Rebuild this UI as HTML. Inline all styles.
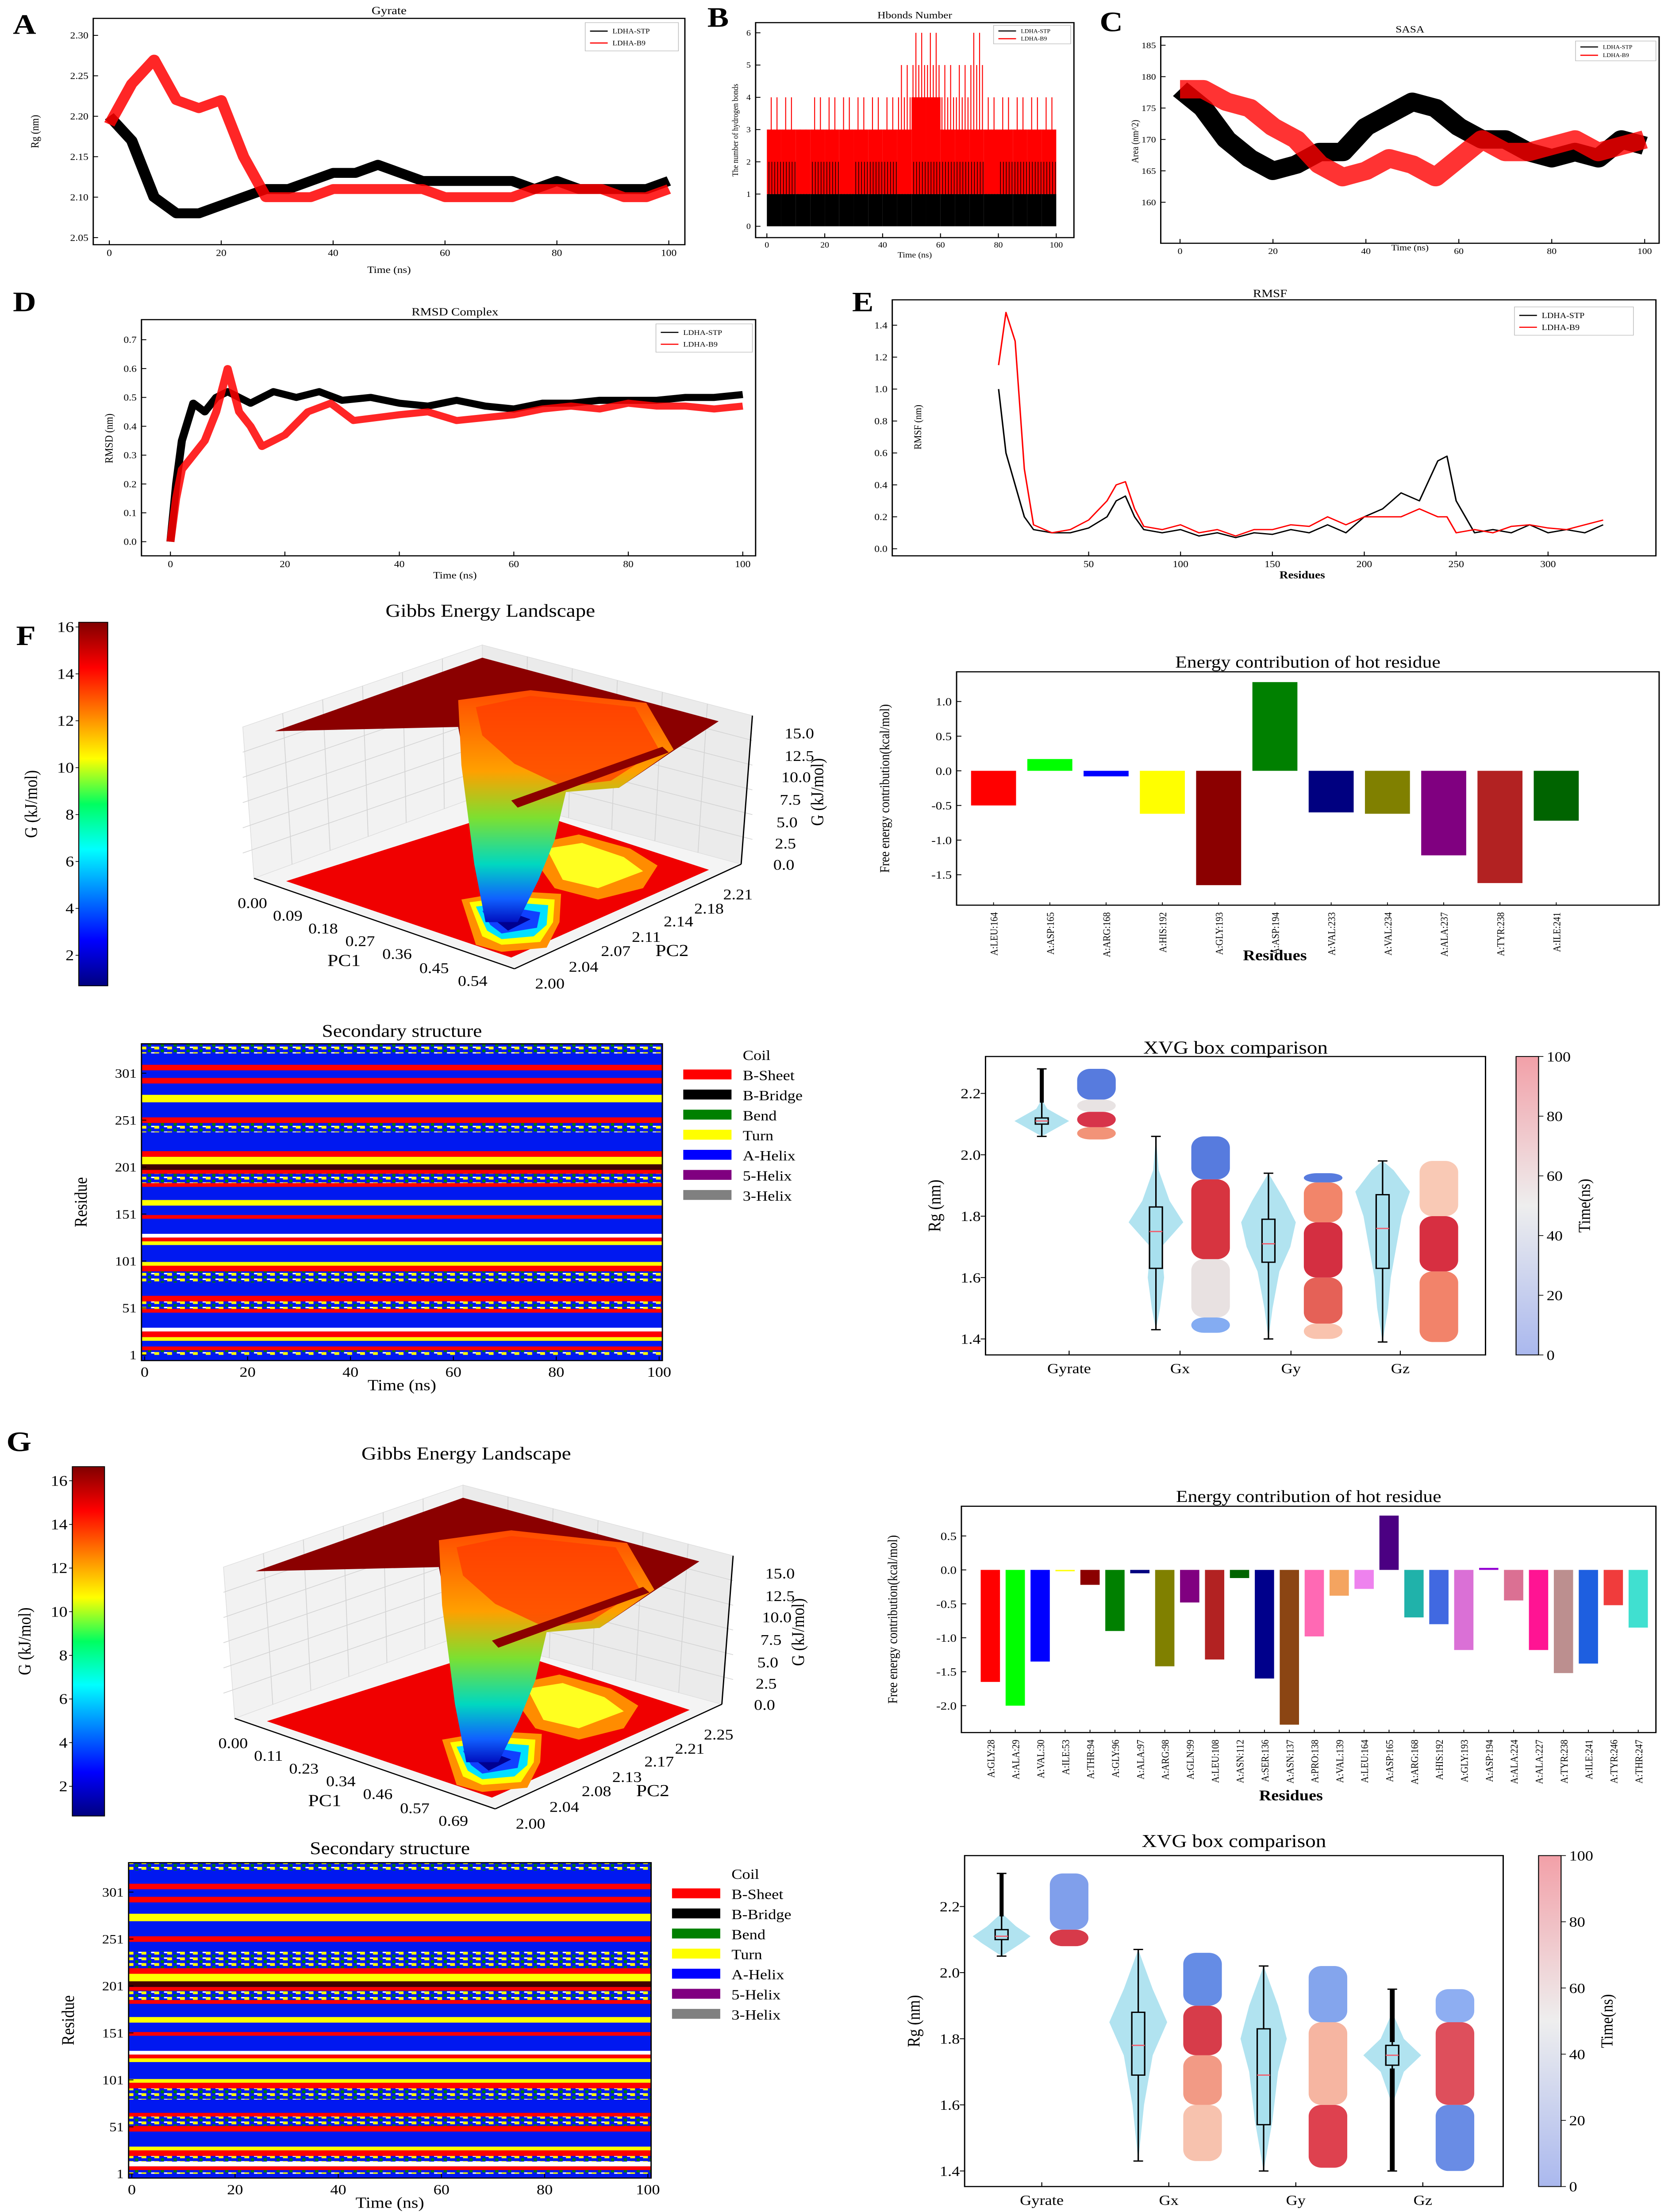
<!DOCTYPE html>
<html><head><meta charset="utf-8"><title>MD analysis figure</title>
<style>
html,body{margin:0;padding:0;background:#fff;width:100%;height:100%;overflow:hidden;}
#fig{display:block;position:fixed;left:0;top:0;width:100vw;height:100vh;}
text{font-family:"Liberation Serif",serif;}
</style></head>
<body>
<svg id="fig" xmlns="http://www.w3.org/2000/svg" viewBox="0 0 1040 1564" preserveAspectRatio="none" overflow="hidden">
<defs>
<linearGradient id="jet" x1="0" y1="1" x2="0" y2="0">
<stop offset="0" stop-color="#000080"/><stop offset="0.125" stop-color="#0000ff"/><stop offset="0.375" stop-color="#00ffff"/><stop offset="0.5" stop-color="#00ff60"/><stop offset="0.625" stop-color="#ffff00"/><stop offset="0.875" stop-color="#ff0000"/><stop offset="1" stop-color="#800000"/>
</linearGradient>
<linearGradient id="funnel" x1="0" y1="0" x2="0" y2="1">
<stop offset="0" stop-color="#ff4a00"/><stop offset="0.35" stop-color="#ffa000"/><stop offset="0.55" stop-color="#7de030"/><stop offset="0.75" stop-color="#00d8c0"/><stop offset="0.9" stop-color="#1060ff"/><stop offset="1" stop-color="#0010c0"/>
</linearGradient>
<linearGradient id="cw" x1="0" y1="1" x2="0" y2="0">
<stop offset="0" stop-color="#aab8ee"/><stop offset="0.5" stop-color="#eeeeee"/><stop offset="1" stop-color="#f2a0a8"/>
</linearGradient>
<pattern id="mix" width="8" height="4" patternUnits="userSpaceOnUse">
<rect width="8" height="4" fill="#0018f0"/><rect x="0" y="0" width="3" height="2" fill="#ffff00"/><rect x="4" y="2" width="2" height="2" fill="#008000"/><rect x="6" y="0" width="2" height="1" fill="#ffffff"/>
</pattern>
</defs>
</svg>
<script>
// ---------------- DATA ----------------
const gyrTime=[0,4,8,12,16,20,24,28,32,36,40,44,48,52,56,60,64,68,72,76,80,84,88,92,96,100];
const gyrSTP=[2.20,2.17,2.10,2.08,2.08,2.09,2.10,2.11,2.11,2.12,2.13,2.13,2.14,2.13,2.12,2.12,2.12,2.12,2.12,2.11,2.12,2.11,2.11,2.11,2.11,2.12];
const gyrB9=[2.19,2.24,2.27,2.22,2.21,2.22,2.15,2.10,2.10,2.10,2.11,2.11,2.11,2.11,2.11,2.10,2.10,2.10,2.10,2.11,2.11,2.11,2.11,2.10,2.10,2.11];
const gyrYTicks=[2.05,2.10,2.15,2.20,2.25,2.30];
const timeTicks=[0,20,40,60,80,100];

const hbBucketStart=[0,5,10,15,20,25,30,35,40,45,50,55,60,65,70,75,80,85,90,95];
const hbRedMax=[4,4,3,4,4,4,4,4,4,5,6,6,5,5,6,4,4,4,4,4];
const hbRedTypical=[3,3,3,3,3,3,3,3,3,3,4,4,3,3,3,3,3,3,3,3];
const hbBlackMax=[2,2,1,2,2,1,2,2,2,1,2,2,2,2,2,1,2,2,2,2];
const hbYTicks=[0,1,2,3,4,5,6];

const sasaTime=[0,5,10,15,20,25,30,35,40,45,50,55,60,65,70,75,80,85,90,95,100];
const sasaSTP=[178,175,170,167,165,166,168,168,172,174,176,175,172,170,170,168,167,168,167,170,169];
const sasaB9=[178,178,176,175,172,170,166,164,165,167,166,164,167,170,168,168,169,170,168,169,170];
const sasaYTicks=[160,165,170,175,180,185];

const rmsdTimeSTP=[0,1,2,4,6,8,10,14,18,22,26,30,35,40,45,50,55,60,65,70,75,80,85,90,95,100];
const rmsdSTP=[0,0.2,0.35,0.48,0.45,0.5,0.52,0.48,0.52,0.5,0.52,0.49,0.5,0.48,0.47,0.49,0.47,0.46,0.48,0.48,0.49,0.49,0.49,0.5,0.5,0.51];
const rmsdTimeB9=[0,1,2,4,6,8,10,12,14,16,18,20,24,28,32,36,40,45,50,55,60,65,70,75,80,85,90,95,100];
const rmsdB9=[0,0.15,0.25,0.3,0.35,0.45,0.6,0.45,0.4,0.33,0.35,0.37,0.45,0.48,0.42,0.43,0.44,0.45,0.42,0.43,0.44,0.46,0.47,0.46,0.48,0.47,0.47,0.46,0.47];
const rmsdYTicks=[0,0.1,0.2,0.3,0.4,0.5,0.6,0.7];

const rmsfRes=[1,5,10,15,20,30,40,50,60,65,70,75,80,90,100,110,120,130,140,150,160,170,180,190,200,210,220,230,240,245,250,260,270,280,290,300,310,320,330];
const rmsfSTP=[1.0,0.6,0.4,0.2,0.12,0.1,0.1,0.13,0.2,0.3,0.33,0.2,0.12,0.1,0.12,0.08,0.1,0.07,0.1,0.09,0.12,0.1,0.15,0.1,0.2,0.25,0.35,0.3,0.55,0.58,0.3,0.1,0.12,0.1,0.15,0.1,0.12,0.1,0.15];
const rmsfB9=[1.15,1.48,1.3,0.5,0.15,0.1,0.12,0.18,0.3,0.4,0.42,0.25,0.14,0.12,0.15,0.1,0.12,0.08,0.12,0.12,0.15,0.14,0.2,0.15,0.2,0.2,0.2,0.25,0.2,0.2,0.1,0.12,0.1,0.14,0.15,0.13,0.12,0.15,0.18];
const rmsfYTicks=[0,0.2,0.4,0.6,0.8,1.0,1.2,1.4];
const rmsfXTicks=[50,100,150,200,250,300];

const hotResF=["A:LEU:164","A:ASP:165","A:ARG:168","A:HIS:192","A:GLY:193","A:ASP:194","A:VAL:233","A:VAL:234","A:ALA:237","A:TYR:238","A:ILE:241"];
const hotValF=[-0.5,0.17,-0.08,-0.62,-1.65,1.28,-0.6,-0.62,-1.22,-1.62,-0.72];
const hotColF=["#ff0000","#00ff00","#0000ff","#ffff00","#8b0000","#008000","#000080","#808000","#800080","#b22222","#006400"];
const hotTicksF=[-1.5,-1.0,-0.5,0.0,0.5,1.0];

const hotResG=["A:GLY:28","A:ALA:29","A:VAL:30","A:ILE:53","A:THR:94","A:GLY:96","A:ALA:97","A:ARG:98","A:GLN:99","A:LEU:108","A:ASN:112","A:SER:136","A:ASN:137","A:PRO:138","A:VAL:139","A:LEU:164","A:ASP:165","A:ARG:168","A:HIS:192","A:GLY:193","A:ASP:194","A:ALA:224","A:ALA:227","A:TYR:238","A:ILE:241","A:TYR:246","A:THR:247"];
const hotValG=[-1.65,-2.0,-1.35,-0.02,-0.22,-0.9,-0.05,-1.42,-0.48,-1.32,-0.12,-1.6,-2.28,-0.98,-0.38,-0.28,0.8,-0.7,-0.8,-1.18,0.03,-0.45,-1.18,-1.52,-1.38,-0.52,-0.85];
const hotColG=["#ff0000","#00ff00","#0000ff","#ffff00","#8b0000","#008000","#000080","#808000","#800080","#b22222","#006400","#00008b","#8b4513","#ff69b4","#f4a460","#ee82ee","#4b0082","#20b2aa","#4169e1","#da70d6","#9400d3","#db7093","#ff1493","#bc8f8f","#1e5fe0","#f03c3c","#40e0d0"];
const hotTicksG=[-2.0,-1.5,-1.0,-0.5,0.0,0.5];

const ssCodes=["Coil","B-Sheet","B-Bridge","Bend","Turn","A-Helix","5-Helix","3-Helix"];
const ssBandsF=[[1,6,'M'],[6,10,'E'],[10,16,'H'],[16,20,'T'],[20,26,'E'],[26,30,'C'],[30,46,'H'],[46,50,'E'],[50,58,'M'],[58,64,'E'],[64,78,'H'],[78,90,'M'],[90,96,'E'],[96,100,'T'],[100,118,'H'],[118,122,'T'],[122,126,'E'],[126,130,'C'],[130,146,'H'],[146,150,'E'],[150,160,'H'],[160,166,'T'],[166,180,'H'],[180,184,'E'],[184,194,'M'],[194,198,'E'],[198,204,'B'],[204,212,'T'],[212,218,'E'],[218,238,'H'],[238,248,'M'],[248,254,'E'],[254,270,'H'],[270,278,'T'],[278,290,'H'],[290,296,'E'],[296,304,'H'],[304,310,'E'],[310,322,'H'],[322,332,'M']];
const ssBandsG=[[1,5,'M'],[5,9,'E'],[9,14,'C'],[14,20,'M'],[20,26,'E'],[26,30,'T'],[30,46,'H'],[46,52,'E'],[52,62,'M'],[62,66,'E'],[66,80,'H'],[80,92,'M'],[92,98,'E'],[98,102,'T'],[102,120,'H'],[120,124,'T'],[124,128,'E'],[128,132,'C'],[132,148,'H'],[148,152,'E'],[152,162,'H'],[162,168,'T'],[168,182,'H'],[182,186,'E'],[186,196,'M'],[196,200,'E'],[200,206,'B'],[206,214,'T'],[214,220,'E'],[220,238,'M'],[238,248,'H'],[248,254,'E'],[254,270,'H'],[270,278,'T'],[278,290,'H'],[290,296,'E'],[296,304,'H'],[304,310,'E'],[310,324,'H'],[324,332,'M']];
const ssResTicks=[1,51,101,151,201,251,301];

const xvgGroups=["Gyrate","Gx","Gy","Gz"];
const xvgTicks=[1.4,1.6,1.8,2.0,2.2];
const boxF=[[2.06,2.10,2.11,2.12,2.28],[1.43,1.63,1.75,1.83,2.06],[1.40,1.65,1.71,1.79,1.94],[1.39,1.63,1.76,1.87,1.98]];
const violinLevelsF=[[2.06,2.09,2.11,2.13,2.15,2.18],[1.43,1.5,1.6,1.7,1.78,1.85,1.95,2.06],[1.40,1.5,1.62,1.7,1.78,1.85,1.94],[1.39,1.5,1.6,1.7,1.8,1.88,1.95,1.98]];
const violinWidthF=[[0,0.6,1,0.6,0.2,0],[0,0.15,0.3,0.2,1,0.5,0.1,0],[0,0.15,0.4,0.8,1,0.6,0],[0,0.2,0.3,0.5,0.7,1,0.4,0]];
const stripF=[[[2.05,2.09,"#f08060"],[2.09,2.14,"#d0102a"],[2.14,2.18,"#e4dede"],[2.18,2.28,"#3a64d8"]],[[1.42,1.47,"#6e9ef0"],[1.47,1.66,"#e4dcdc"],[1.66,1.92,"#d0101e"],[1.92,2.06,"#3a64d8"]],[[1.40,1.45,"#f8b9a0"],[1.45,1.6,"#e0453a"],[1.6,1.78,"#cc0a20"],[1.78,1.91,"#f07050"],[1.91,1.94,"#3a64d8"]],[[1.39,1.62,"#f06d50"],[1.62,1.8,"#d00a20"],[1.8,1.98,"#f8c0a8"]]];
const boxG=[[2.05,2.10,2.11,2.13,2.30],[1.43,1.69,1.78,1.88,2.07],[1.40,1.54,1.69,1.83,2.02],[1.40,1.72,1.75,1.78,1.95]];
const violinLevelsG=[[2.05,2.09,2.11,2.14,2.18],[1.43,1.6,1.75,1.85,1.95,2.07],[1.40,1.55,1.7,1.8,1.9,2.02],[1.6,1.7,1.75,1.8,1.88]];
const violinWidthG=[[0,0.7,1,0.5,0],[0,0.2,0.5,1,0.5,0],[0,0.3,0.5,0.8,0.5,0],[0,0.4,1,0.4,0]];
const stripG=[[[2.08,2.13,"#d0182a"],[2.13,2.30,"#6a8ee8"]],[[1.43,1.6,"#f6b7a0"],[1.6,1.75,"#f08870"],[1.75,1.9,"#d01a2a"],[1.9,2.06,"#4a78e0"]],[[1.41,1.6,"#d82030"],[1.6,1.85,"#f4a890"],[1.85,2.02,"#6f95ea"]],[[1.40,1.6,"#4f78e0"],[1.6,1.85,"#d83040"],[1.85,1.95,"#7aa0f0"]]];
const timeCbTicks=[0,20,40,60,80,100];

const gCbTicks=[2,4,6,8,10,12,14,16];
const pc1F=["0.00","0.09","0.18","0.27","0.36","0.45","0.54"];
const pc2F=["2.00","2.04","2.07","2.11","2.14","2.18","2.21"];
const pc1G=["0.00","0.11","0.23","0.34","0.46","0.57","0.69"];
const pc2G=["2.00","2.04","2.08","2.13","2.17","2.21","2.25"];
const zTicks=["0.0","2.5","5.0","7.5","10.0","12.5","15.0"];

// ---------------- HELPERS ----------------
const NS='http://www.w3.org/2000/svg';
const svg=document.getElementById('fig');
function mk(tag,attrs,parent){const e=document.createElementNS(NS,tag);for(const k in attrs)e.setAttribute(k,attrs[k]);(parent||svg).appendChild(e);return e;}
function T(x,y,s,size,o,parent){o=o||{};const e=mk('text',{x:x,y:y,'font-size':size,'text-anchor':o.a||'middle',fill:o.fill||'#000'},parent);if(o.w)e.setAttribute('font-weight',o.w);if(o.f)e.setAttribute('font-family',o.f);if(o.rot!==undefined)e.setAttribute('transform','rotate('+o.rot+' '+x+' '+y+')');e.textContent=s;return e;}
function grp(name,parent){const g=mk('g',{},parent);return g;}
function frame(g,x0,y0,x1,y1,w){const r=mk('rect',{x:x0,y:y0,width:x1-x0,height:y1-y0,fill:'none',stroke:'#000','stroke-width':w||0.8},g);return r;}
function yTicks(g,vals,ymap,x0,size,fmt,len){const tg=grp('y-axis-ticks',g);vals.forEach(v=>{const y=ymap(v);mk('line',{x1:x0,y1:y,x2:x0+(len||3),y2:y,stroke:'#000','stroke-width':0.6},tg);const t=T(x0-3,y+size*0.35,fmt(v),size,{a:'end'},tg);});}
function xTicks(g,vals,xmap,y1,size,fmt,len){const tg=grp('x-axis-ticks',g);vals.forEach(v=>{const x=xmap(v);mk('line',{x1:x,y1:y1,x2:x,y2:y1-(len||3),stroke:'#000','stroke-width':0.6},tg);const t=T(x,y1+size+1.5,fmt(v),size,{},tg);});}
function series(g,xs,ys,xmap,ymap,color,w,name,op){const d=xs.map((x,i)=>(i?'L':'M')+xmap(x).toFixed(2)+' '+ymap(ys[i]).toFixed(2)).join(' ');const p=mk('path',{d:d,fill:'none',stroke:color,'stroke-width':w,'stroke-linejoin':'round','stroke-opacity':op||1},g);return p;}
function legend2(g,x,y,w,h,size){const lg=grp('legend',g);mk('rect',{x:x,y:y,width:w,height:h,fill:'#fff',stroke:'#bbb','stroke-width':0.4},lg);
 const e1=mk('line',{x1:x+3,y1:y+h*0.3,x2:x+14,y2:y+h*0.3,stroke:'#000','stroke-width':0.8},lg);
 T(x+17,y+h*0.3+size*0.35,'LDHA-STP',size,{a:'start'},lg);
 const e2=mk('line',{x1:x+3,y1:y+h*0.72,x2:x+14,y2:y+h*0.72,stroke:'#f00','stroke-width':0.8},lg);
 T(x+17,y+h*0.72+size*0.35,'LDHA-B9',size,{a:'start'},lg);}
function letter(s,x,y){const t=T(x,y,s,20,{a:'start',w:'bold',f:'"Liberation Sans",sans-serif'});}
const f2=v=>v.toFixed(2), f1=v=>v.toFixed(1), f0=v=>String(v);

// ---------------- PANEL A ----------------
(function(){const g=grp('panel-a-gyrate');
 const xm=v=>68+v*3.48, ym=v=>168-(v-2.05)/0.25*143;
 frame(g,58,13,426,173);
 series(g,gyrTime,gyrSTP,xm,ym,'#000',7,'series-ldha-stp');
 series(g,gyrTime,gyrB9,xm,ym,'#f00',7,'series-ldha-b9',0.85);
 yTicks(g,gyrYTicks,ym,58,6.5,f2);xTicks(g,timeTicks,xm,173,6.5,f0);
 T(242,10,'Gyrate',8,{},g);T(242,193,'Time (ns)',7,{},g);T(24,93,'Rg (nm)',7,{rot:-90},g);
 legend2(g,364,16,58,20,4.8);letter('A',8,24);})();

// ---------------- PANEL B ----------------
(function(){const g=grp('panel-b-hbonds');
 const xm=v=>477+v*1.8, ym=v=>160-v*22.8;
 frame(g,470,16,668,168);
 const bg=grp('hbond-bars',g);
 hbBucketStart.forEach((t,i)=>{
  const r1=mk('rect',{x:xm(t),y:ym(1),width:xm(t+5)-xm(t),height:ym(0)-ym(1),fill:'#000'},bg);
  const r2=mk('rect',{x:xm(t),y:ym(hbRedTypical[i]),width:xm(t+5)-xm(t),height:ym(1)-ym(hbRedTypical[i]),fill:'#f00'},bg);
  for(let k=0;k<5;k++){const x=xm(t+k+0.5);
   const s1=mk('line',{x1:x,y1:ym(1),x2:x,y2:ym(k%2?hbRedMax[i]:hbRedMax[i]-1),stroke:'#f00','stroke-width':0.6},bg);
   const s2=mk('line',{x1:x+0.4,y1:ym(0.95),x2:x+0.4,y2:ym(hbBlackMax[i]),stroke:'#000','stroke-width':0.4},bg);
  }});
 yTicks(g,hbYTicks,ym,470,5.5,f0);xTicks(g,timeTicks,xm,168,5.5,f0);
 T(569,13,'Hbonds Number',7,{},g);T(569,182,'Time (ns)',5.5,{},g);T(459,92,'The number of hydrogen bonds',5.2,{rot:-90},g);
 legend2(g,618,18,48,13,3.8);letter('B',440,19);})();

// ---------------- PANEL C ----------------
(function(){const g=grp('panel-c-sasa');
 const xm=v=>734+v*2.89, ym=v=>143-(v-160)*4.44;
 frame(g,722,26,1032,172);
 series(g,sasaTime,sasaSTP,xm,ym,'#000',13,'series-ldha-stp');
 series(g,sasaTime,sasaB9,xm,ym,'#f00',13,'series-ldha-b9',0.8);
 yTicks(g,sasaYTicks,ym,722,6,f0);xTicks(g,timeTicks,xm,172,6,f0);
 T(877,23,'SASA',7,{},g);T(877,177,'Time (ns)',6,{},g);T(708,100,'Area (nm^2)',6,{rot:-90},g);
 legend2(g,980,29,50,14,3.8);letter('C',684,22);})();

// ---------------- PANEL D ----------------
(function(){const g=grp('panel-d-rmsd');
 const xm=v=>106+v*3.56, ym=v=>383-v*204;
 frame(g,88,226,470,393);
 series(g,rmsdTimeSTP,rmsdSTP,xm,ym,'#000',5,'series-ldha-stp');
 series(g,rmsdTimeB9,rmsdB9,xm,ym,'#f00',5,'series-ldha-b9',0.85);
 yTicks(g,rmsdYTicks,ym,88,6.5,f1);xTicks(g,timeTicks,xm,393,6.5,f0);
 T(283,223,'RMSD Complex',8,{},g);T(283,409,'Time (ns)',7,{},g);T(70,310,'RMSD (nm)',7,{rot:-90},g);
 legend2(g,408,229,60,20,5);letter('D',8,220);})();

// ---------------- PANEL E ----------------
(function(){const g=grp('panel-e-rmsf');
 const xm=v=>620+v*1.143, ym=v=>388-v*112.9;
 frame(g,555,212,1030,393);
 series(g,rmsfRes,rmsfSTP,xm,ym,'#000',0.9,'series-ldha-stp');
 series(g,rmsfRes,rmsfB9,xm,ym,'#f00',0.9,'series-ldha-b9');
 yTicks(g,rmsfYTicks,ym,555,6.5,f1);xTicks(g,rmsfXTicks,xm,393,6.5,f0);
 T(790,210,'RMSF',8,{},g);T(810,409,'Residues',7.5,{w:'bold'},g);T(573,302,'RMSF (nm)',6.5,{rot:-90},g);
 legend2(g,942,217,74,20,5.5);letter('E',530,220);})();

// ---------------- GIBBS COLORBARS ----------------
function gibbsColorbar(name,x0,x1,y0,y1,ym){const g=grp(name);
 const r=mk('rect',{x:x0,y:y0,width:x1-x0,height:y1-y0,fill:'url(#jet)',stroke:'#000','stroke-width':0.6},g);
 gCbTicks.forEach(v=>{const y=ym(v);mk('line',{x1:x0,y1:y,x2:x0-2,y2:y,stroke:'#000','stroke-width':0.5},g);T(x0-3,y+3.5,String(v),10.5,{a:'end'},g);});
 T(x0-26,(y0+y1)/2,'G (kJ/mol)',11,{rot:-90},g);}
gibbsColorbar('colorbar-gibbs-f',49,67,440,697,v=>697-(v-0.7)/15.5*257);
gibbsColorbar('colorbar-gibbs-g',45,65,1037,1284,v=>1263-(v-2)*15.43);

// ---------------- 3D LANDSCAPES ----------------
function gibbs3d(name,dx,dy,pc1,pc2){const g=grp(name);g.setAttribute('transform','translate('+dx+' '+dy+')');
 const P=a=>a.map(p=>p.join(',')).join(' ');
 mk('polygon',{points:P([[151,514],[300,456],[300,562],[158,621]]),fill:'#f2f2f2',stroke:'#ddd','stroke-width':0.4},g);
 mk('polygon',{points:P([[300,456],[468,506],[461,611],[300,562]]),fill:'#ebebeb',stroke:'#ddd','stroke-width':0.4},g);
 mk('polygon',{points:P([[158,621],[300,562],[461,611],[320,685]]),fill:'#f4f4f4',stroke:'#ddd','stroke-width':0.4},g);
 for(let i=1;i<6;i++){const t=i/6;
  mk('line',{x1:151+(300-151)*t,y1:514+(456-514)*t,x2:158+(300-158)*t,y2:621+(562-621)*t,stroke:'#d4d4d4','stroke-width':0.5},g);
  mk('line',{x1:300+(468-300)*t,y1:456+(506-456)*t,x2:300+(461-300)*t,y2:562+(611-562)*t,stroke:'#d4d4d4','stroke-width':0.5},g);
  mk('line',{x1:151,y1:514+(621-514)*t,x2:300,y2:456+(562-456)*t,stroke:'#d4d4d4','stroke-width':0.5},g);
  mk('line',{x1:300,y1:456+(562-456)*t,x2:468,y2:506+(611-506)*t,stroke:'#d4d4d4','stroke-width':0.5},g);}
 const fl=mk('polygon',{points:P([[178,623],[322,571],[441,615],[318,677]]),fill:'#f00000'},g);
 mk('polygon',{points:P([[335,596],[360,590],[392,600],[409,612],[400,628],[372,636],[345,628],[335,612]]),fill:'#ff8c00'},g);
 mk('polygon',{points:P([[340,600],[362,596],[388,606],[400,616],[372,628],[350,622]]),fill:'#ffff20'},g);
 const b1=mk('polygon',{points:P([[287,636],[318,630],[349,632],[348,652],[340,670],[312,673],[296,668]]),fill:'#ff9000'},g);
 mk('polygon',{points:P([[292,638],[318,634],[345,636],[344,652],[336,666],[312,668],[300,662]]),fill:'#ffff00'},g);
 mk('polygon',{points:P([[296,641],[318,638],[341,640],[340,654],[332,662],[312,664],[303,658]]),fill:'#00e0ff'},g);
 mk('polygon',{points:P([[300,644],[320,642],[336,645],[334,656],[312,660],[305,654]]),fill:'#1040ff'},g);
 mk('polygon',{points:P([[305,648],[320,646],[330,650],[316,658]]),fill:'#000090'},g);
 const pl=mk('polygon',{points:P([[171,517],[300,465],[447,510],[420,530],[385,557],[352,558],[322,565],[292,557],[285,514]]),fill:'#8b0000'},g);
 const fu=mk('polygon',{points:P([[285,495],[330,488],[402,497],[419,530],[385,557],[352,560],[345,594],[335,622],[322,652],[302,652],[295,611],[287,541]]),fill:'url(#funnel)'},g);
 mk('polygon',{points:P([[296,500],[330,492],[395,500],[410,530],[380,552],[350,556],[320,540],[300,520]]),fill:'#ff3c00',opacity:0.75},g);
 mk('polygon',{points:P([[318,566],[412,528],[416,532],[322,571]]),fill:'#8b0000'},g);
 mk('line',{x1:158,y1:621,x2:320,y2:685,stroke:'#000','stroke-width':0.8},g);
 mk('line',{x1:320,y1:685,x2:461,y2:611,stroke:'#000','stroke-width':0.8},g);
 mk('line',{x1:468,y1:506,x2:461,y2:611,stroke:'#000','stroke-width':0.8},g);
 const p1=[[157,642],[179,651],[201,660],[224,669],[247,678],[270,688],[294,697]];
 const p2=[[342,699],[363,687],[383,676],[402,666],[422,655],[441,646],[459,636]];
 const pz=[[481,615],[482,600],[483,585],[485,569],[486,553],[488,538],[488,522]];
 pc1.forEach((s,i)=>T(p1[i][0],p1[i][1],s,10.5,{},g));
 pc2.forEach((s,i)=>T(p2[i][0],p2[i][1],s,10.5,{},g));
 zTicks.forEach((s,i)=>T(pz[i][0],pz[i][1],s,10.5,{a:'start'},g));
 T(214,683,'PC1',12,{},g);T(418,676,'PC2',12,{},g);T(512,560,'G (kJ/mol)',11,{rot:-90},g);}
T(305,436,'Gibbs Energy Landscape',13);
gibbs3d('gibbs-landscape-f',0,0,pc1F,pc2F);
T(290,1032,'Gibbs Energy Landscape',13);
gibbs3d('gibbs-landscape-g',-12,594,pc1G,pc2G);
letter('F',10,456);letter('G',4,1026);

// ---------------- HOT RESIDUE BARS ----------------
function hotBars(name,res,vals,cols,ticks,x0,x1,y0,y1,zeroY,ppu,cx0,step,bw,title,titleY,ylabX,labTop){const g=grp(name);
 const ym=v=>zeroY-v*ppu;
 frame(g,x0,y0,x1,y1);
 T((x0+x1)/2,titleY,title,12,{},g);
 yTicks(g,ticks,ym,x0,8,f1);
 T(ylabX,(y0+y1)/2,'Free energy contribution(kcal/mol)',8.5,{rot:-90},g);
 res.forEach((r,i)=>{const cx=cx0+i*step,v=vals[i];
  const b=mk('rect',{x:cx-bw/2,y:Math.min(ym(v),ym(0)),width:bw,height:Math.abs(ym(v)-ym(0)),fill:cols[i]},g);
  
  
  mk('line',{x1:cx,y1:y1,x2:cx,y2:y1-2,stroke:'#000','stroke-width':0.5},g);
  T(cx+2.5,labTop,r,6.5,{a:'end',rot:-90},g);});
 return g;}
const gF=hotBars('hot-residue-chart-f',hotResF,hotValF,hotColF,hotTicksF,595,1032,475,640,545,49,618,35,28,'Energy contribution of hot residue',472,553,645);
T(793,679,'Residues',10.5,{w:'bold'},gF);
const gG=hotBars('hot-residue-chart-g',hotResG,hotValG,hotColG,hotTicksG,598,1030,1065,1225,1110,48,616,15.5,12,'Energy contribution of hot residue',1062,558,1230);
T(803,1273,'Residues',10.5,{w:'bold'},gG);

// ---------------- SECONDARY STRUCTURE ----------------
const ssFill={C:'#ffffff',E:'#ff0000',B:'#400000',S:'#008000',T:'#ffff00',H:'#0018f0',M:'url(#mix)'};
const ssLegCol=[null,'#ff0000','#000000','#008000','#ffff00','#0000ff','#800080','#808080'];
function ssMap(name,bands,x0,x1,ym,top,bottom,titleY,legX,legY,xlabY){const g=grp(name);
 T((x0+x1)/2,titleY,'Secondary structure',12.5,{},g);
 mk('rect',{x:x0,y:top,width:x1-x0,height:bottom-top,fill:'#0018f0'},g);
 bands.forEach(b=>{const y0=Math.max(top,ym(b[1])),y1=Math.min(bottom,ym(b[0]));if(y1<=y0)return;
  const r=mk('rect',{x:x0,y:y0,width:x1-x0,height:y1-y0,fill:ssFill[b[2]]},g);
  
  });
 frame(g,x0,top,x1,bottom);
 yTicks(g,ssResTicks,ym,x0,9,f0);
 const xm=v=>x0+2+v*(x1-x0-4)/100;
 xTicks(g,timeTicks,xm,bottom,10,f0);
 T((x0+x1)/2,xlabY,'Time (ns)',11,{},g);
 T(x0-34,(top+bottom)/2,'Residue',11,{rot:-90},g);
 const lg=grp('ss-legend',g);
 ssCodes.forEach((c,i)=>{const y=legY+i*14.2;
  if(ssLegCol[i]){const s=mk('rect',{x:legX,y:y-4,width:30,height:7,fill:ssLegCol[i]},lg);}
  const t=T(legX+37,y+3.5,c,10,{a:'start'},lg);});}
ssMap('secondary-structure-f',ssBandsF,88,412,r=>958-(r-1)*0.664,738,962,733,425,746,983);
ssMap('secondary-structure-g',ssBandsG,80,405,r=>1537-(r-1)*0.664,1317,1540,1311,418,1325,1561);

// ---------------- XVG BOX COMPARISON ----------------
function xvg(name,x0,x1,y0,y1,ym,vx,sx,lx,box,vl,vw,strips,cbx,vwScale,title,tY){const g=grp(name);
 T((x0+x1)/2,tY,title,13,{},g);
 frame(g,x0,y0,x1,y1);
 yTicks(g,xvgTicks,ym,x0,10,f1,-3);
 T(x0-28,(y0+y1)/2,'Rg (nm)',11,{rot:-90},g);
 xvgGroups.forEach((gn,i)=>{
  const lv=vl[i],wv=vw[i];let d='M'+vx[i]+' '+ym(lv[0]);
  lv.forEach((v,k)=>{d+=' L'+(vx[i]+wv[k]*vwScale).toFixed(2)+' '+ym(v).toFixed(2);});
  for(let k=lv.length-1;k>=0;k--)d+=' L'+(vx[i]-wv[k]*vwScale).toFixed(2)+' '+ym(lv[k]).toFixed(2);
  const vp=mk('path',{d:d+'Z',fill:'#a8e0ee',opacity:0.9},g);
  
  
  strips[i].forEach(s=>{const r=mk('rect',{x:sx[i]-12,y:ym(s[1]),width:24,height:ym(s[0])-ym(s[1]),rx:8,fill:s[2],opacity:0.85},g);
   
   });
  const b=box[i];
  mk('line',{x1:vx[i],y1:ym(b[0]),x2:vx[i],y2:ym(b[4]),stroke:'#000','stroke-width':0.9},g);
  mk('line',{x1:vx[i]-3,y1:ym(b[0]),x2:vx[i]+3,y2:ym(b[0]),stroke:'#000','stroke-width':0.9},g);
  mk('line',{x1:vx[i]-3,y1:ym(b[4]),x2:vx[i]+3,y2:ym(b[4]),stroke:'#000','stroke-width':0.9},g);
  const bx=mk('rect',{x:vx[i]-4,y:ym(b[3]),width:8,height:ym(b[1])-ym(b[3]),fill:'#a8e0ee',stroke:'#000','stroke-width':0.9},g);
  
  
  mk('line',{x1:vx[i]-4,y1:ym(b[2]),x2:vx[i]+4,y2:ym(b[2]),stroke:'#f06070','stroke-width':0.9},g);
  mk('line',{x1:lx[i],y1:y1,x2:lx[i],y2:y1-3,stroke:'#000','stroke-width':0.6},g);
  T(lx[i],Math.min(y1+13,1560),gn,10,{},g);});
 const cg=grp('colorbar-time',g);
 const cr=mk('rect',{x:cbx,y:y0,width:14,height:y1-y0,fill:'url(#cw)',stroke:'#000','stroke-width':0.6},cg);
 timeCbTicks.forEach(v=>{const y=y1-v/100*(y1-y0);mk('line',{x1:cbx+14,y1:y,x2:cbx+17,y2:y,stroke:'#000','stroke-width':0.5},cg);T(cbx+19,y+3.5,String(v),10,{a:'start'},cg);});
 T(cbx+46,(y0+y1)/2,'Time(ns)',10.5,{rot:-90},cg);
 return g;}
xvg('xvg-box-f',613,924,747,958,v=>946.7-(v-1.4)*217,[648,719,789,860],[682,753,823,895],[665,734,803,871],boxF,violinLevelsF,violinWidthF,stripF,943,17,'XVG box comparison',745);
const gx=xvg('xvg-box-g',600,935,1312,1546,v=>1535-(v-1.4)*233.75,[623,708,786,866],[665,748,826,905],[648,727,806,885],boxG,violinLevelsG,violinWidthG,stripG,957,18,'XVG box comparison',1306);
const ym2=v=>1535-(v-1.4)*233.75;
const o1=mk('line',{x1:866,y1:ym2(1.40),x2:866,y2:ym2(1.71),stroke:'#000','stroke-width':3},gx);
const o2=mk('line',{x1:866,y1:ym2(1.79),x2:866,y2:ym2(1.95),stroke:'#000','stroke-width':3},gx);
const o3=mk('line',{x1:623,y1:ym2(2.17),x2:623,y2:ym2(2.30),stroke:'#000','stroke-width':2.5},gx);
const ym1=v=>946.7-(v-1.4)*217;
const o4=mk('line',{x1:648,y1:ym1(2.17),x2:648,y2:ym1(2.28),stroke:'#000','stroke-width':2.5},svg);
</script>
</body></html>
